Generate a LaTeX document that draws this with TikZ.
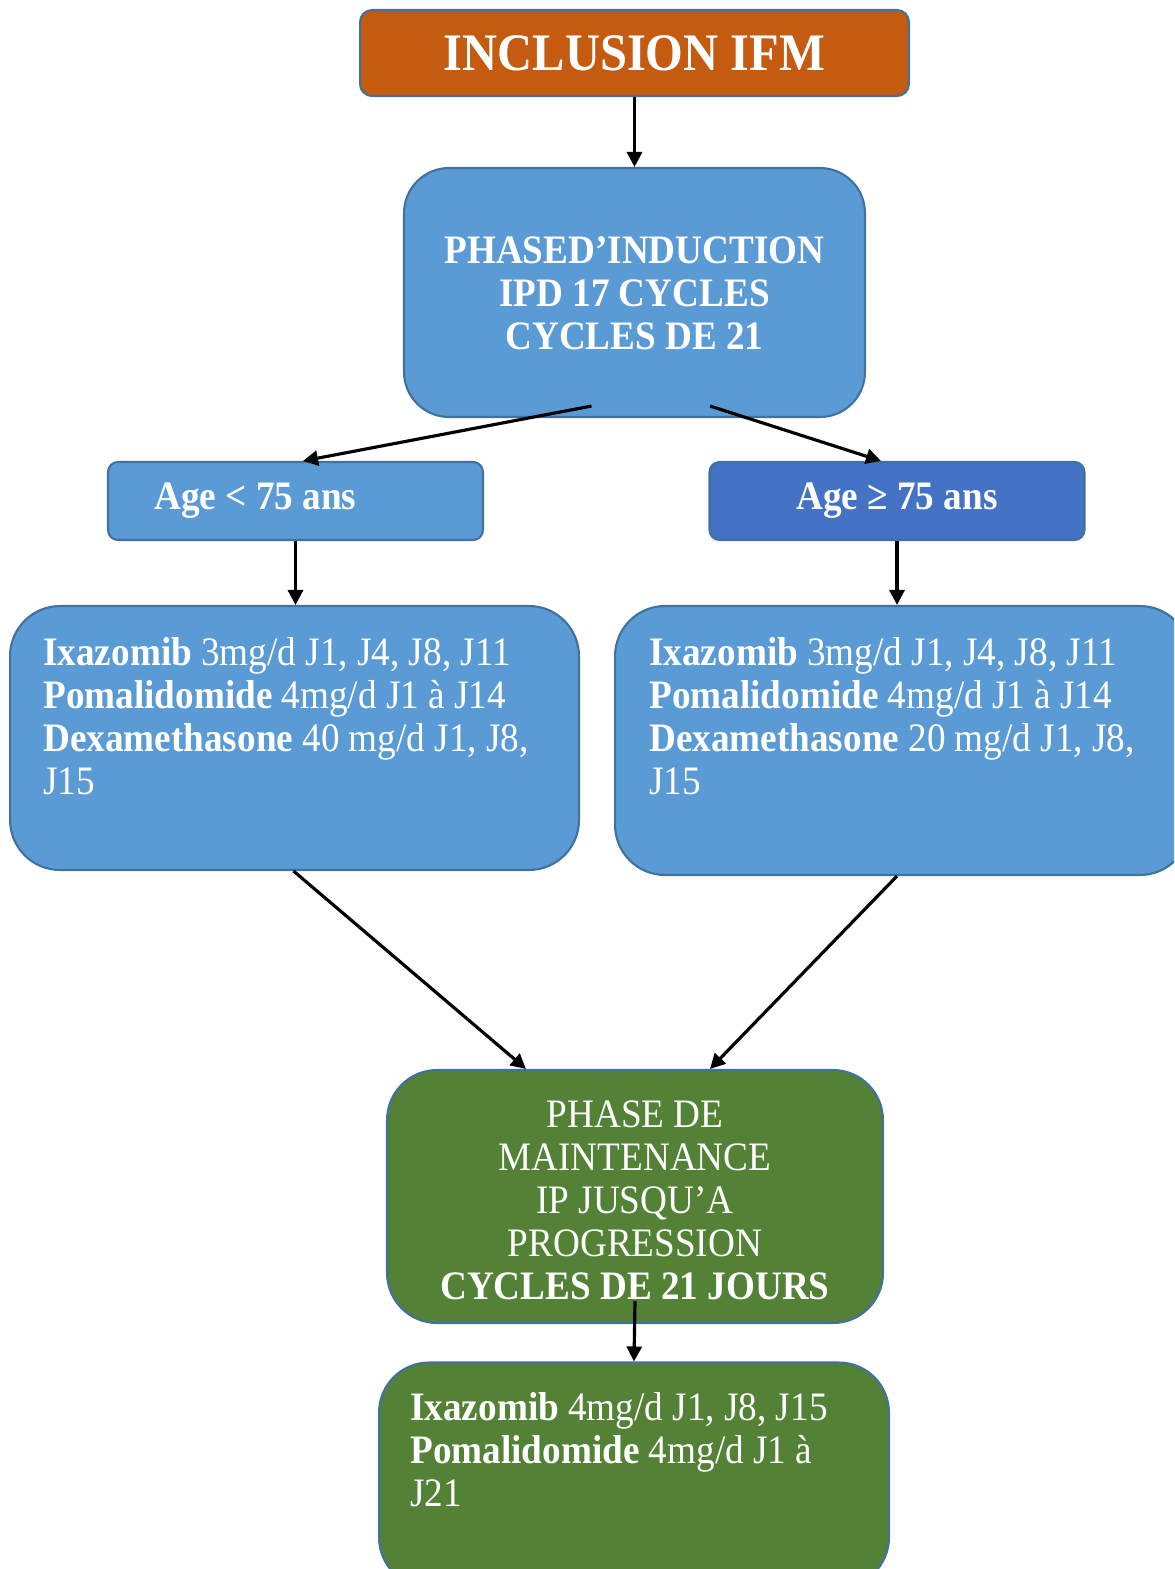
\documentclass[tikz,border=0pt]{standalone}
\usepackage{fontspec}
\setmainfont[FakeStretch=0.92]{Liberation Serif}
\usetikzlibrary{arrows.meta,calc,positioning}

\definecolor{inclorange}{HTML}{C55A11}
\definecolor{phaseblue}{HTML}{5B9BD5}
\definecolor{oldblue}{HTML}{4472C4}
\definecolor{maintgreen}{HTML}{538135}
\definecolor{edgeblue}{HTML}{41719C}

\tikzset{
  box/.style={draw=edgeblue, line width=1.2pt, text=white, inner sep=0pt},
  txt/.style={text=white, inner sep=0pt, font=\fontsize{23}{24.5}\selectfont},
  flow/.style={-{Triangle[length=0.3cm,width=0.3cm]}, line width=1.8pt}
}

\begin{document}
\begin{tikzpicture}[x=0.02cm,y=-0.02cm]
    \useasboundingbox (0,0) rectangle (1174,1569);
    \clip (0,0) rectangle (1174,1569);

    % boxes
    \node[box, fill=inclorange, rounded corners=0.24cm, minimum width=10.98cm, minimum height=1.72cm,
          font=\fontsize{30}{32}\selectfont\bfseries] (incl) at (634.5,53) {INCLUSION IFM};
    \node[box, fill=phaseblue, rounded corners=0.9cm, minimum width=9.22cm, minimum height=4.98cm] (induc) at (634.5,292.5) {};
    \node[box, fill=phaseblue, rounded corners=0.2cm, minimum width=7.5cm, minimum height=1.56cm,
          font=\fontsize{23}{24.5}\selectfont\bfseries] (young) at (295.5,501) {Age < 75 ans\hspace{1.6cm}\null};
    \node[box, fill=oldblue, rounded corners=0.2cm, minimum width=7.5cm, minimum height=1.56cm,
          font=\fontsize{23}{24.5}\selectfont\bfseries] (old) at (897,501) {Age ≥ 75 ans};
    \node[box, fill=phaseblue, rounded corners=1cm, minimum width=11.38cm, minimum height=5.28cm] (left) at (294.5,738) {};
    \node[box, fill=phaseblue, rounded corners=1cm, minimum width=11.5cm, minimum height=5.38cm] (right) at (902.5,740.5) {};
    \node[box, fill=maintgreen, rounded corners=1cm, minimum width=9.92cm, minimum height=5.06cm] (maint) at (635,1196.5) {};
    \node[box, fill=maintgreen, rounded corners=1cm, minimum width=10.2cm, minimum height=4.5cm] (final) at (634,1475) {};

    % texts
    \node[txt, align=center, font=\fontsize{23}{24.5}\selectfont\bfseries] (inductxt) at (634.5,293)
      {PHASED’INDUCTION\\IPD 17 CYCLES\\CYCLES DE 21};
    \node[txt, align=left, anchor=north west] (lefttxt) at (43,637)
      {\textbf{Ixazomib} 3mg/d J1, J4, J8, J11\\\textbf{Pomalidomide} 4mg/d J1 à J14\\\textbf{Dexamethasone} 40 mg/d J1, J8,\\J15};
    \node[txt, align=left, anchor=north west] (righttxt) at (649,637)
      {\textbf{Ixazomib} 3mg/d J1, J4, J8, J11\\\textbf{Pomalidomide} 4mg/d J1 à J14\\\textbf{Dexamethasone} 20 mg/d J1, J8,\\J15};
    \node[txt, align=center] (mainttxt) at (635,1200)
      {PHASE DE\\MAINTENANCE\\IP JUSQU’A\\PROGRESSION\\\textbf{CYCLES DE 21 JOURS}};
    \node[txt, align=left, anchor=north west] (finaltxt) at (410,1392)
      {\textbf{Ixazomib} 4mg/d J1, J8, J15\\\textbf{Pomalidomide} 4mg/d J1 à\\J21};

    % arrows
    \draw[flow] (incl.south) -- (induc.north);
    \draw[flow] ([shift={(-43,-12)}]induc.south) -- ([xshift=0.15cm]young.north);
    \draw[flow] ([shift={(75.5,-12)}]induc.south) -- ([xshift=-0.32cm]old.north);
    \draw[flow] (young.south) -- (young.south |- left.north);
    \draw[flow] (old.south) -- (old.south |- right.north);
    \draw[flow] ([xshift=-0.02cm]left.south) -- ([xshift=-2.18cm]maint.north);
    \draw[flow] ([xshift=-0.11cm]right.south) -- ([xshift=1.5cm]maint.north);
    \draw[flow] ([yshift=0.46cm]maint.south) -- (final.north);
\end{tikzpicture}
\end{document}
